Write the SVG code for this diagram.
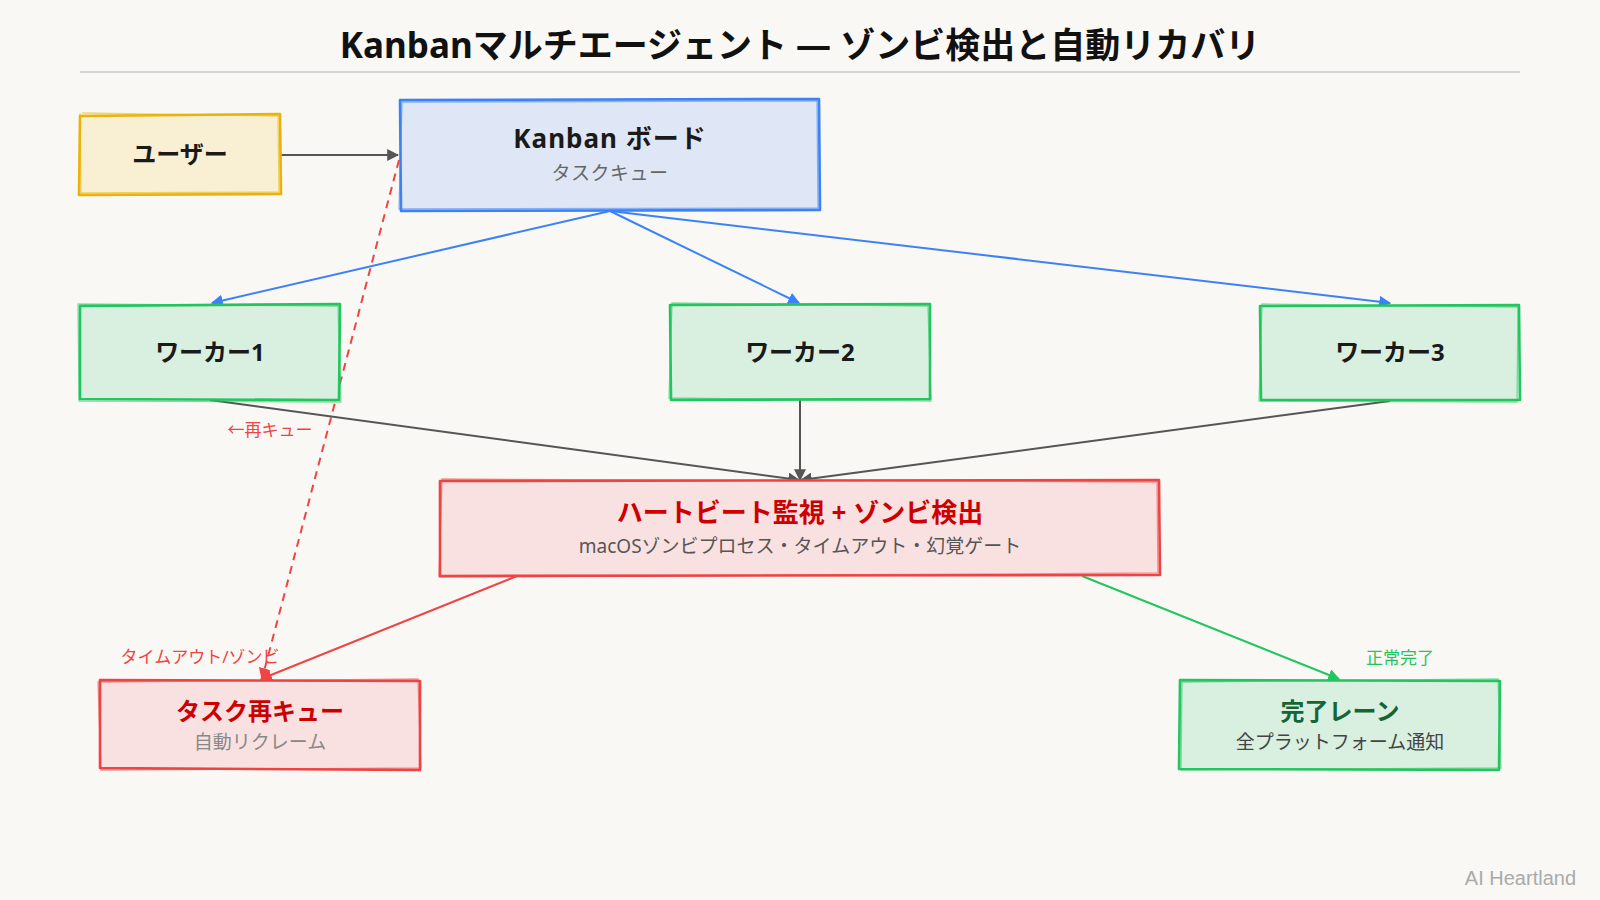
<svg xmlns="http://www.w3.org/2000/svg" width="1600" height="900" viewBox="0 0 1600 900">
<defs>
<style>
text{font-family:"Noto Sans","Noto Sans CJK JP",sans-serif;text-anchor:middle}
.title{font-size:35px;font-weight:700;fill:#111}
.nt{font-size:24px;font-weight:700;fill:#1a1a1a}
.ns{font-size:19px;fill:#555}
.red{fill:#cc0000}
.dg{fill:#166534}
.el{font-size:17px}
.s1{fill:none;stroke-width:2.6;stroke-linejoin:round}
.s2{fill:none;stroke-width:1.3;opacity:.55}
.c{fill:none;stroke-width:2}
</style>
<marker id="aG" viewBox="0 0 10 10" refX="9" refY="5" markerWidth="12" markerHeight="12" markerUnits="userSpaceOnUse" orient="auto"><path d="M0,0 L10,5 L0,10 Z" fill="#555"/></marker>
<marker id="aB" viewBox="0 0 10 10" refX="9" refY="5" markerWidth="12" markerHeight="12" markerUnits="userSpaceOnUse" orient="auto"><path d="M0,0 L10,5 L0,10 Z" fill="#3b82f6"/></marker>
<marker id="aR" viewBox="0 0 10 10" refX="9" refY="5" markerWidth="12" markerHeight="12" markerUnits="userSpaceOnUse" orient="auto"><path d="M0,0 L10,5 L0,10 Z" fill="#ef4444"/></marker>
<marker id="aN" viewBox="0 0 10 10" refX="9" refY="5" markerWidth="12" markerHeight="12" markerUnits="userSpaceOnUse" orient="auto"><path d="M0,0 L10,5 L0,10 Z" fill="#22c55e"/></marker>
</defs>
<rect width="1600" height="900" fill="#f9f8f5"/>
<text class="title" x="800" y="58">Kanbanマルチエージェント — ゾンビ検出と自動リカバリ</text>
<line x1="80" y1="72" x2="1520" y2="72" stroke="#d4d4d4" stroke-width="2"/>

<g id="connectors">
<line class="c" x1="281" y1="155" x2="398" y2="155" stroke="#555" stroke-width="2.4" marker-end="url(#aG)"/>
<line class="c" x1="610" y1="211" x2="212" y2="303" stroke="#3b82f6" stroke-width="2.8" marker-end="url(#aB)"/>
<line class="c" x1="610" y1="211" x2="799" y2="303" stroke="#3b82f6" stroke-width="2.8" marker-end="url(#aB)"/>
<line class="c" x1="610" y1="211" x2="1390" y2="303" stroke="#3b82f6" stroke-width="2.2" marker-end="url(#aB)"/>
<line class="c" x1="210" y1="400" x2="799" y2="480" stroke="#555" marker-end="url(#aG)"/>
<line class="c" x1="800" y1="400" x2="800" y2="480" stroke="#555" marker-end="url(#aG)"/>
<line class="c" x1="1390" y1="401" x2="801" y2="480" stroke="#555" marker-end="url(#aG)"/>
<line class="c" x1="517" y1="576" x2="261" y2="679" stroke="#ef4444" stroke-width="2.4" marker-end="url(#aR)"/>
<line class="c" x1="1082" y1="576" x2="1339" y2="679" stroke="#22c55e" stroke-width="2.4" marker-end="url(#aN)"/>
<line class="c" x1="399" y1="160" x2="262" y2="679" stroke="#ef4444" stroke-width="1.8" stroke-dasharray="8 6" marker-end="url(#aR)"/>
<text class="el" x="270" y="436" fill="#ef4444">←再キュー</text>
<text class="el" x="200" y="663" fill="#ef4444">タイムアウト/ゾンビ</text>
<text class="el" x="1400" y="664" fill="#22c55e">正常完了</text>
</g>

<g id="user">
<rect x="80" y="114" width="200" height="81" fill="#f9efd3"/>
<path class="s1" stroke="#eab308" d="M80,116 L280,114 L281,194 L79,195 Z"/>
<path class="s2" stroke="#eab308" d="M82,113 L278,116 L279,192 L81,193 L80,113"/>
<text class="nt" x="180" y="163">ユーザー</text>
</g>

<g id="kanban">
<rect x="400" y="100" width="420" height="111" fill="#dfe6f5"/>
<path class="s1" stroke="#3b82f6" d="M400,100 L819,99 L820,210 L401,211 Z"/>
<path class="s2" stroke="#3b82f6" d="M402,102 L817,101 L818,208 L399,209 Z"/>
<text class="nt" x="610" y="148" style="font-size:26px;letter-spacing:1px">Kanban ボード</text>
<text class="ns" x="610" y="180" style="fill:#666;letter-spacing:0.5px">タスクキュー</text>
</g>

<g id="worker1">
<rect x="80" y="304" width="259" height="96" fill="#d9efdf"/>
<path class="s1" stroke="#22c55e" d="M80,306 L340,304 L339,400 L80,399 Z"/>
<path class="s2" stroke="#22c55e" d="M78,304 L338,306 L341,402 L79,401 Z"/>
<text class="nt" x="210" y="361">ワーカー1</text>
</g>

<g id="worker2">
<rect x="670" y="304" width="260" height="96" fill="#d9efdf"/>
<path class="s1" stroke="#22c55e" d="M670,305 L930,304 L930,399 L671,400 Z"/>
<path class="s2" stroke="#22c55e" d="M672,303 L928,306 L931,401 L669,398 Z"/>
<text class="nt" x="800" y="361">ワーカー2</text>
</g>

<g id="worker3">
<rect x="1260" y="305" width="260" height="96" fill="#d9efdf"/>
<path class="s1" stroke="#22c55e" d="M1260,306 L1519,305 L1520,400 L1261,400 Z"/>
<path class="s2" stroke="#22c55e" d="M1262,304 L1518,307 L1517,402 L1259,401 Z"/>
<text class="nt" x="1390" y="361">ワーカー3</text>
</g>

<g id="heartbeat">
<rect x="440" y="480" width="720" height="96" fill="#fae1e1"/>
<path class="s1" stroke="#ef4444" d="M440,481 L1159,480 L1160,575 L440,576 Z"/>
<path class="s2" stroke="#ef4444" d="M442,479 L1157,482 L1158,573 L439,577 Z"/>
<text class="nt red" x="800" y="522" style="font-size:26px">ハートビート監視 + ゾンビ検出</text>
<text class="ns" x="800" y="553">macOSゾンビプロセス・タイムアウト・幻覚ゲート</text>
</g>

<g id="requeue">
<rect x="100" y="680" width="320" height="90" fill="#fae1e1"/>
<path class="s1" stroke="#ef4444" d="M100,680 L420,681 L420,770 L100,768 Z"/>
<path class="s2" stroke="#ef4444" d="M98,682 L418,679 L421,768 L101,770 Z"/>
<text class="nt red" x="260" y="720">タスク再キュー</text>
<text class="ns" x="260" y="749" style="fill:#888">自動リクレーム</text>
</g>

<g id="done">
<rect x="1180" y="680" width="320" height="90" fill="#d9efdf"/>
<path class="s1" stroke="#22c55e" d="M1180,680 L1500,681 L1499,770 L1179,769 Z"/>
<path class="s2" stroke="#22c55e" d="M1182,682 L1498,679 L1501,768 L1181,770 Z"/>
<text class="nt dg" x="1340" y="720">完了レーン</text>
<text class="ns" x="1340" y="749" style="fill:#444">全プラットフォーム通知</text>
</g>

<text x="1576" y="885" style="font-family:'Liberation Sans',sans-serif;font-size:20px;fill:#aaa;text-anchor:end">AI Heartland</text>
</svg>
